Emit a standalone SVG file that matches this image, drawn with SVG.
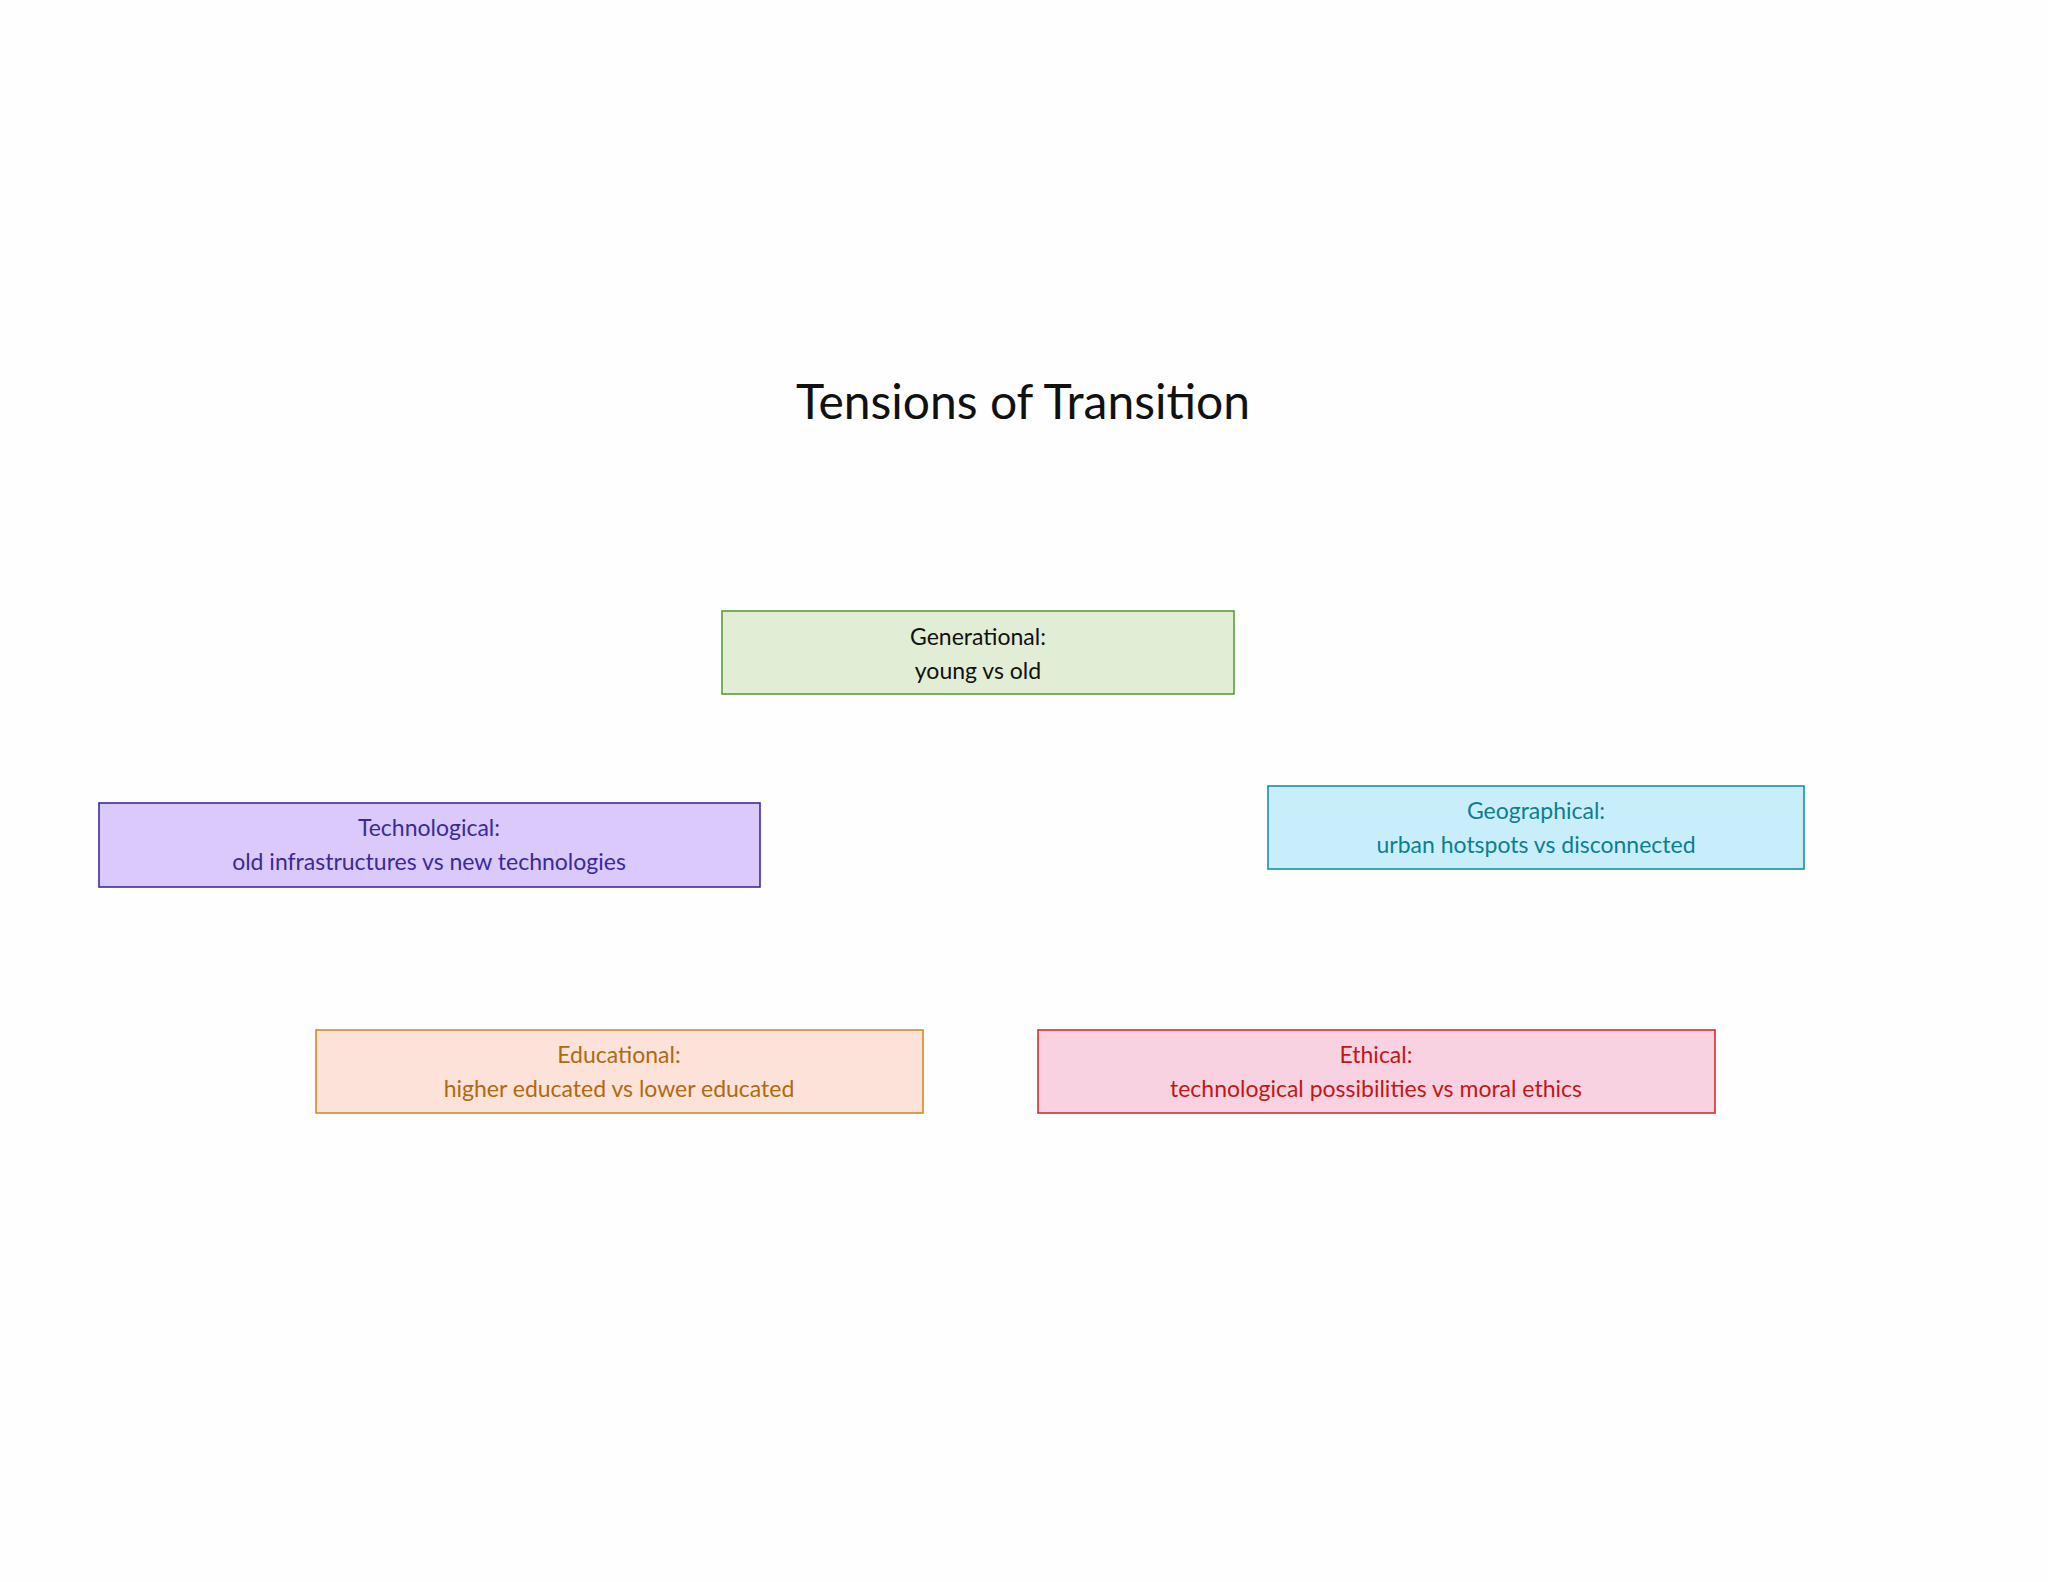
<svg xmlns="http://www.w3.org/2000/svg" width="2048" height="1582" viewBox="0 0 2048 1582">
<style>
text{font-family:"Lato","Noto Sans",sans-serif;text-anchor:middle;dominant-baseline:central}
.t{font-size:23px}
rect{stroke-width:1.6}
</style>
<rect width="2048" height="1582" fill="#fefefe"/>
<text x="1023" y="400" font-size="48" fill="#111">Tensions of Transition</text>
<g id="generational"><rect x="722" y="611" width="512" height="83" fill="#e2edd6" stroke="#5a9e32"/><text class="t" x="978" y="636" fill="#111">Generational:</text><text class="t" x="978" y="670" fill="#111">young vs old</text></g>
<g id="technological"><rect x="99" y="803" width="661" height="84" fill="#dac9fb" stroke="#3f2aa0"/><text class="t" x="429" y="827" fill="#3b2a9a">Technological:</text><text class="t" x="429" y="861" fill="#3b2a9a">old infrastructures vs new technologies</text></g>
<g id="geographical"><rect x="1268" y="786" width="536" height="83" fill="#c8eefc" stroke="#1a8fa8"/><text class="t" x="1536" y="810" fill="#0c7f8f">Geographical:</text><text class="t" x="1536" y="844" fill="#0c7f8f">urban hotspots vs disconnected</text></g>
<g id="educational"><rect x="316" y="1030" width="607" height="83" fill="#fce2d8" stroke="#d48a2a"/><text class="t" x="619" y="1054" fill="#b06a10">Educational:</text><text class="t" x="619" y="1088" fill="#b06a10">higher educated vs lower educated</text></g>
<g id="ethical"><rect x="1038" y="1030" width="677" height="83" fill="#f8d2e0" stroke="#d03030"/><text class="t" x="1376" y="1054" fill="#c01818">Ethical:</text><text class="t" x="1376" y="1088" fill="#c01818">technological possibilities vs moral ethics</text></g>
<g id="connectors"/>
</svg>
